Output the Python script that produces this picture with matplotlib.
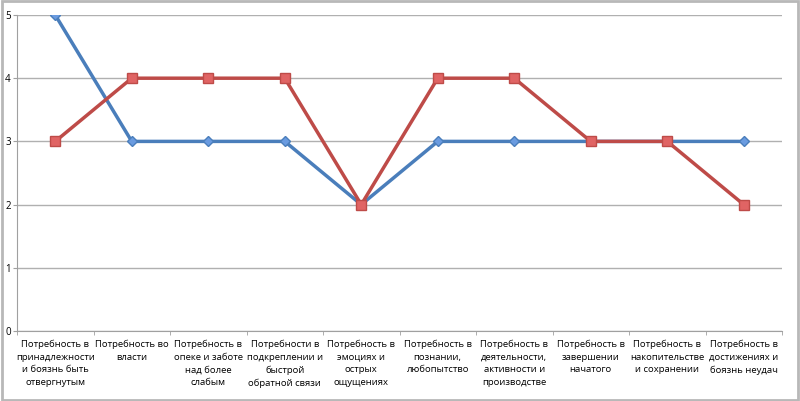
import numpy as np
import matplotlib.pyplot as plt
from matplotlib.patches import Rectangle

categories = [
    'Потребность в\nпринадлежности\nи боязнь быть\nотвергнутым',
    'Потребность во\nвласти',
    'Потребность в\nопеке и заботе\nнад более\nслабым',
    'Потребности в\nподкреплении и\nбыстрой\nобратной связи',
    'Потребность в\nэмоциях и\nострых\nощущениях',
    'Потребность в\nпознании,\nлюбопытство',
    'Потребность в\nдеятельности,\nактивности и\nпроизводстве',
    'Потребность в\nзавершении\nначатого',
    'Потребность в\nнакопительстве\nи сохранении',
    'Потребность в\nдостижениях и\nбоязнь неудач',
]
series_blue = [5, 3, 3, 3, 2, 3, 3, 3, 3, 3]
series_red = [3, 4, 4, 4, 2, 4, 4, 3, 3, 2]

plt.rcParams['font.family'] = ['Open Sans', 'DejaVu Sans']

fig = plt.figure(figsize=(8, 4.01), dpi=100)
ax = fig.add_axes([17 / 800, 1 - 331 / 401, 765 / 800, 316 / 401])

x = np.arange(len(categories))
ax.plot(x, series_blue, color='#4a7ebb', lw=2.5, marker='D', ms=5.5,
        mfc='#6a9be0', mec='#4a7ebb', zorder=3)
ax.plot(x, series_red, color='#be4b48', lw=2.5, marker='s', ms=7,
        mfc='#e06464', mec='#be4b48', zorder=4)

ax.set_xlim(-0.5, len(categories) - 0.5)
ax.set_ylim(0, 5)
ax.set_yticks(range(6))
ax.yaxis.grid(True, color='#b0b0b0', lw=1)
ax.set_axisbelow(True)
for s in ['top', 'right']:
    ax.spines[s].set_visible(False)
ax.spines['left'].set_color('#a0a0a0')
ax.spines['bottom'].set_color('#a0a0a0')
ax.tick_params(axis='y', length=3, color='#a0a0a0', labelsize=7, pad=1.5)

ax.set_xticks(x)
ax.set_xticklabels(categories, fontsize=6.8, linespacing=1.55)
ax.tick_params(axis='x', length=0, pad=6)
ax.set_xticks(np.arange(-0.5, len(categories), 1), minor=True)
ax.tick_params(axis='x', which='minor', length=3, color='#a0a0a0')

fig.patches.append(Rectangle((0.002, 0.003), 0.996, 0.994, transform=fig.transFigure,
                             fill=False, edgecolor='#b8b8b8', lw=2))

fig.savefig('out.png', dpi=100)
